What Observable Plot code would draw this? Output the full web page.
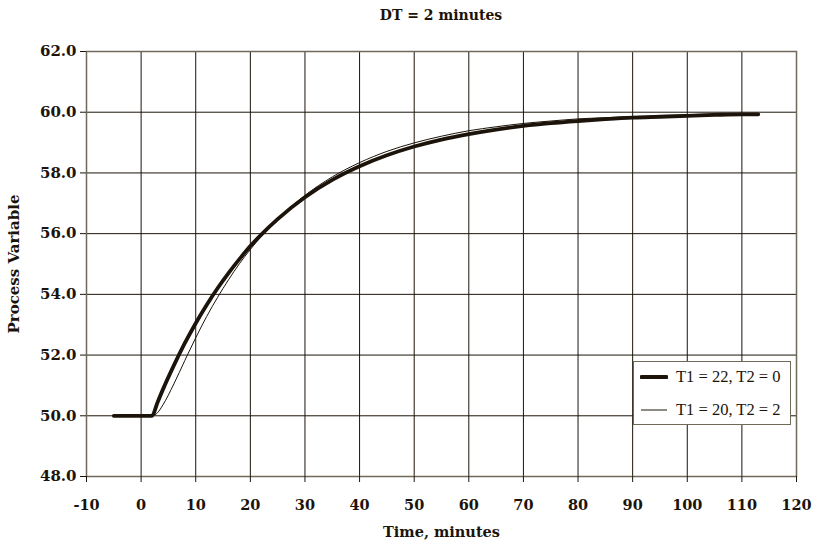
<!DOCTYPE html>
<html><head><meta charset="utf-8">
<script src="https://cdn.jsdelivr.net/npm/d3@7"></script>
<script src="https://cdn.jsdelivr.net/npm/@observablehq/plot@0.6"></script>
<style>
body{margin:0;background:#fff;}
#wrap{position:relative;width:814px;height:543px;font-family:"DejaVu Serif","Liberation Serif",serif;color:#1c140a;}
#title{height:30px;line-height:30px;text-align:center;padding-left:68px;font-weight:bold;font-size:14px;}
#legend{position:absolute;left:633px;top:361px;width:156px;height:62px;border:1.5px solid #6f6a58;background:#fff;font-size:16.5px;font-family:"Liberation Serif",serif;}
.row{position:absolute;left:6px;display:flex;align-items:center;}
.row span{margin-left:8px;}
</style></head>
<body><div id="wrap"><div id="title">DT = 2 minutes</div><div id="chart"></div>
<div id="legend">
<div class="row" style="top:5px"><svg width="28" height="10"><line x1="1.5" y1="5" x2="26.5" y2="5" stroke="#1c140a" stroke-width="4" stroke-linecap="round"/></svg><span>T1 = 22, T2 = 0</span></div>
<div class="row" style="top:38px"><svg width="28" height="10"><line x1="1" y1="5" x2="27" y2="5" stroke="#1c140a" stroke-width="1"/></svg><span>T1 = 20, T2 = 2</span></div>
</div></div>
<script>
const xTicks = [-10,0,10,20,30,40,50,60,70,80,90,100,110,120];
const yTicks = [48,50,52,54,56,58,60,62];
const time = [-5,2,3,4,6,8,10,12,14,16,18,20,22,25,30,35,40,45,50,55,60,65,70,75,80,85,90,95,100,105,110,113];
const pvT1_22 = [50,50,50.44,50.87,51.66,52.39,53.05,53.65,54.20,54.70,55.16,55.59,55.97,56.48,57.20,57.77,58.22,58.58,58.87,59.10,59.28,59.43,59.55,59.64,59.71,59.77,59.82,59.85,59.88,59.91,59.93,59.93];
const pvT1_20_T2_2 = [50,50,50.10,50.36,51.05,51.82,52.57,53.27,53.90,54.48,55.01,55.48,55.91,56.48,57.26,57.87,58.34,58.71,58.99,59.21,59.39,59.52,59.63,59.71,59.78,59.82,59.86,59.89,59.92,59.94,59.95,59.96];
const seriesNames = ["T1 = 22, T2 = 0","T1 = 20, T2 = 2"];

const d1 = time.map((t,i)=>({t, v:pvT1_22[i]}));
const d2 = time.map((t,i)=>({t, v:pvT1_20_T2_2[i]}));
const ink = "#1c140a";
const chart = Plot.plot({
  width:814, height:513,
  marginTop:21, marginBottom:67, marginLeft:86, marginRight:18,
  style:{fontFamily:'"DejaVu Serif","Liberation Serif",serif', fontSize:"15px", fontWeight:"bold", color:ink, background:"#fff"},
  x:{domain:[-10,120]},
  y:{domain:[48,62]},
  marks:[
    Plot.gridX(xTicks,{stroke:ink, strokeOpacity:1, strokeWidth:1}),
    Plot.gridY(yTicks,{stroke:ink, strokeOpacity:1, strokeWidth:1}),
    Plot.frame({stroke:"#6f6a58", strokeWidth:1.5}),
    Plot.axisX(xTicks,{tickSize:6, tickPadding:17, stroke:ink, tickFormat:d=>String(d), label:"Time, minutes", labelAnchor:"center", labelArrow:"none", labelOffset:60, fontSize:14.5}),
    Plot.axisY(yTicks,{tickSize:6, tickPadding:4, stroke:ink, tickFormat:d=>d.toFixed(1), label:"Process Variable", labelAnchor:"center", labelArrow:"none", labelOffset:78, fontSize:15}),
    Plot.line(d1,{x:"t", y:"v", stroke:ink, strokeWidth:3.8, curve:"monotone-x"}),
    Plot.line(d2,{x:"t", y:"v", stroke:ink, strokeWidth:1, curve:"monotone-x"})
  ]
});
document.getElementById("chart").appendChild(chart);
</script></body></html>
